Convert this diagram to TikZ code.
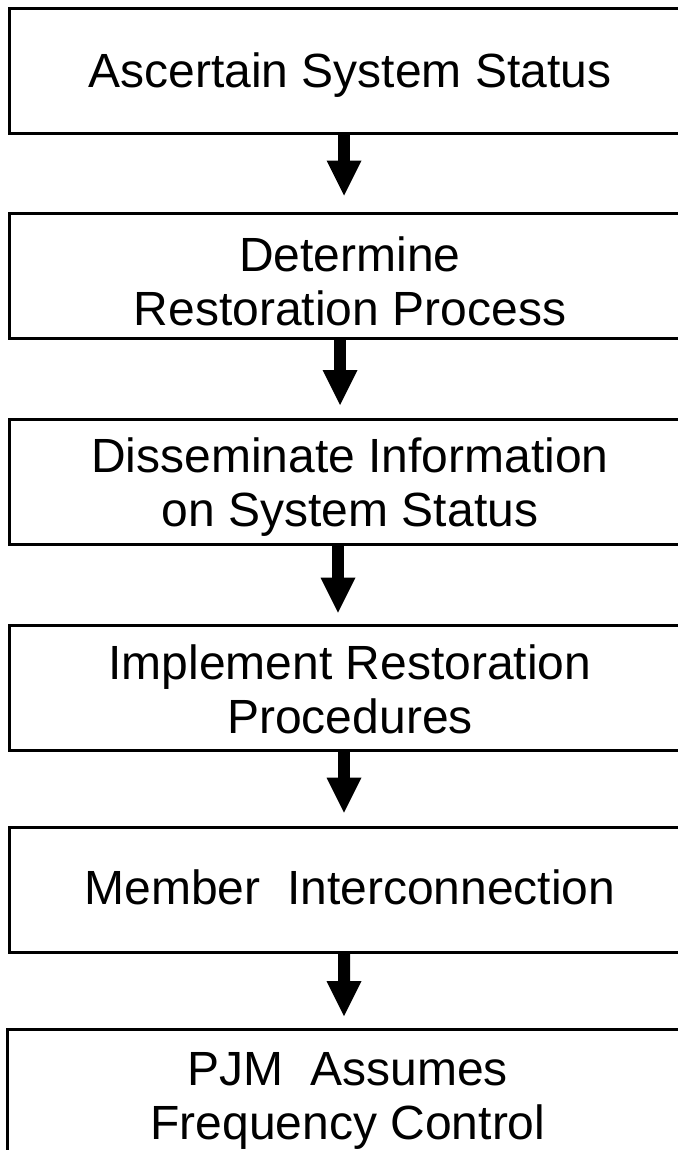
\documentclass[tikz,border=0pt]{standalone}
\usepackage{fontspec}
\setmainfont{Liberation Sans}
\usetikzlibrary{arrows.meta}
\begin{document}
\begin{tikzpicture}[x=1bp,y=-1bp,
  stepbox/.style={draw=black, line width=3bp, minimum width=680bp, minimum height=125bp, inner sep=0pt},
  lbl/.style={inner sep=0pt, align=center, font=\fontsize{48bp}{54bp}\selectfont},
  flow/.style={line width=12bp, -{Triangle[width=35bp,length=35bp,line width=0pt]}}]
\useasboundingbox (0,0) rectangle (678,1150);
\node[stepbox] (b1) at (350,70.5) {};
\node[stepbox] (b2) at (350,275.5) {};
\node[stepbox] (b3) at (350,482) {};
\node[stepbox] (b4) at (350,687.5) {};
\node[stepbox] (b5) at (350,889.5) {};
\node[stepbox] (b6) at (348,1092) {};
\node[lbl] (t1) at ([yshift=-5bp]b1.center) {Ascertain System Status};
\node[lbl] (t2) at ([yshift=-6bp]b2.center) {Determine\\Restoration Process};
\node[lbl] (t3) at ([yshift=-5bp]b3.center) {Disseminate Information\\on System Status};
\node[lbl] (t4) at ([yshift=-2bp]b4.center) {Implement Restoration\\Procedures};
\node[lbl] (t5) at ([yshift=2bp]b5.center) {Member~~Interconnection};
\node[lbl] (t6) at ([yshift=-9bp]b6.center) {PJM~~Assumes\\Frequency Control};
\draw[flow] ([xshift=-6bp]b1.south) -- ([xshift=-6bp,yshift=16bp]b2.north);
\draw[flow] ([xshift=-10bp]b2.south) -- ([xshift=-10bp,yshift=13bp]b3.north);
\draw[flow] ([xshift=-12bp]b3.south) -- ([xshift=-12bp,yshift=11bp]b4.north);
\draw[flow] ([xshift=-6bp]b4.south) -- ([xshift=-6bp,yshift=13bp]b5.north);
\draw[flow] ([xshift=-6bp]b5.south) -- ([xshift=-4bp,yshift=12bp]b6.north);
\end{tikzpicture}
\end{document}
